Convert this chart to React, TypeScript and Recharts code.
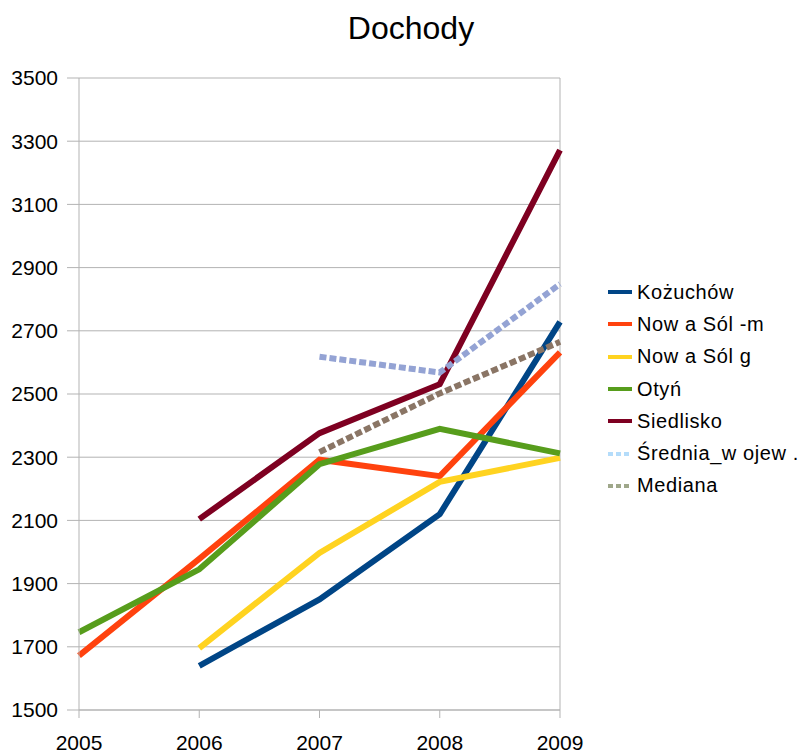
import { CartesianGrid, Legend, Line, LineChart, ReferenceLine, XAxis, YAxis } from "recharts";

const years = ["2005", "2006", "2007", "2008", "2009"];
const kozuchow = [null, 1640, 1850, 2120, 2728];
const nowaSolM = [1672, 1978, 2292, 2240, 2632];
const nowaSolG = [null, 1696, 1997, 2222, 2298];
const otyn = [1746, 1945, 2278, 2390, 2312];
const siedlisko = [null, 2104, 2376, 2531, 3272];
const srednia = [null, null, 2618, 2568, 2848];
const mediana = [null, null, 2316, 2502, 2665];
const yTicks = [1500, 1700, 1900, 2100, 2300, 2500, 2700, 2900, 3100, 3300, 3500];

const SERIES = [
  { key: "koz", name: "Kożuchów", values: kozuchow, color: "#004586", legend: "#004586", dashed: false },
  { key: "nsm", name: "Now a Sól -m", values: nowaSolM, color: "#ff420e", legend: "#ff420e", dashed: false },
  { key: "nsg", name: "Now a Sól g", values: nowaSolG, color: "#ffd320", legend: "#ffd320", dashed: false },
  { key: "oty", name: "Otyń", values: otyn, color: "#579d1c", legend: "#579d1c", dashed: false },
  { key: "sie", name: "Siedlisko", values: siedlisko, color: "#7e0021", legend: "#7e0021", dashed: false },
  { key: "sre", name: "Średnia_w ojew .", values: srednia, color: "#94a3d4", legend: "#b4dcfa", dashed: true },
  { key: "med", name: "Mediana", values: mediana, color: "#8a7565", legend: "#9fa78a", dashed: true },
];

const data = years.map((y, i) => {
  const row: Record<string, string | number | null> = { year: y };
  SERIES.forEach((s) => (row[s.key] = s.values[i]));
  return row;
});

const FONT = '"Liberation Sans", Arial, sans-serif';
const GRID = "#b3b3b3";

function LegendBox() {
  return (
    <div style={{ fontFamily: FONT, fontSize: 20, letterSpacing: 0.6, color: "#000" }}>
      {SERIES.map((s) => (
        <div key={s.key} style={{ display: "flex", alignItems: "center", height: 32.3 }}>
          <svg width={26} height={6} style={{ marginRight: 3 }}>
            <line
              x1={0}
              y1={3}
              x2={24}
              y2={3}
              stroke={s.legend}
              strokeWidth={4}
              strokeDasharray={s.dashed ? "5 3" : undefined}
            />
          </svg>
          <span>{s.name}</span>
        </div>
      ))}
    </div>
  );
}

export default function App() {
  return (
    <div style={{ position: "absolute", left: 0, top: 0, width: 800, height: 754, background: "#fff" }}>
      <div
        style={{
          position: "absolute",
          left: 311,
          top: 12,
          width: 200,
          textAlign: "center",
          fontFamily: FONT,
          fontSize: 32,
          lineHeight: "32px",
        }}
      >
        Dochody
      </div>
      <LineChart width={800} height={754} data={data} margin={{ top: 78, right: 240, left: 0, bottom: 0 }}>
        <CartesianGrid vertical={false} stroke={GRID} strokeWidth={1} />
        <XAxis
          dataKey="year"
          height={44}
          stroke={GRID}
          tickSize={8}
          tickMargin={17}
          tick={{ fill: "#000", fontSize: 21, fontFamily: FONT }}
          interval={0}
        />
        <YAxis
          width={79}
          domain={[1500, 3500]}
          ticks={yTicks}
          stroke={GRID}
          tickSize={12}
          tickMargin={9}
          tick={{ fill: "#000", fontSize: 21, fontFamily: FONT }}
          allowDataOverflow
        />
        <ReferenceLine x="2009" stroke={GRID} />
        <Legend
          layout="vertical"
          align="center"
          verticalAlign="middle"
          wrapperStyle={{ left: 608, top: 276, width: 192 }}
          content={() => <LegendBox />}
        />
        {SERIES.map((s) => (
          <Line
            key={s.key}
            dataKey={s.key}
            name={s.name}
            stroke={s.color}
            strokeWidth={6}
            strokeDasharray={s.dashed ? "7 3" : undefined}
            dot={false}
            activeDot={false}
            isAnimationActive={false}
          />
        ))}
      </LineChart>
    </div>
  );
}
